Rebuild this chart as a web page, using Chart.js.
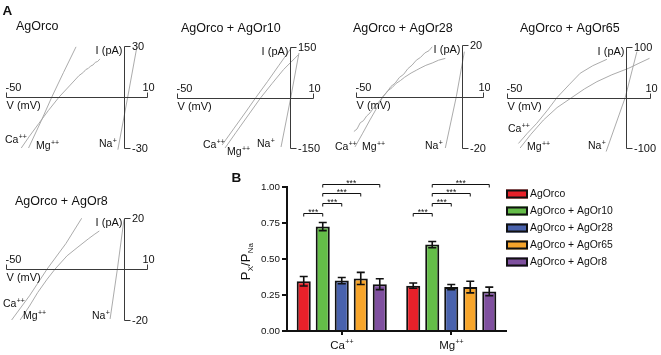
<!DOCTYPE html>
<html>
<head>
<meta charset="utf-8">
<script src="https://cdn.jsdelivr.net/npm/chart.js@4.4.0/dist/chart.umd.min.js"></script>
<style>
  html, body { margin: 0; padding: 0; background: #fff; }
  #fig { position: relative; width: 661px; height: 355px; overflow: hidden; }
  #fig canvas { position: absolute; }
</style>
</head>
<body>
<div id="fig">
  <canvas id="ivOrco" width="165" height="165" style="left:0;top:0"></canvas>
  <canvas id="ivOr10" width="160" height="165" style="left:165px;top:0"></canvas>
  <canvas id="ivOr28" width="165" height="165" style="left:325px;top:0"></canvas>
  <canvas id="ivOr65" width="171" height="165" style="left:490px;top:0"></canvas>
  <canvas id="ivOr8" width="180" height="190" style="left:0;top:165px"></canvas>
  <canvas id="bars" width="431" height="187" style="left:230px;top:168px"></canvas>
</div>
<script>
// ---- panel A : I-V ramps, [mV, pA] ----
const vTicks = [-50, 10];
const ivTitles = ['AgOrco', 'AgOrco + AgOr10', 'AgOrco + AgOr28', 'AgOrco + AgOr65', 'AgOrco + AgOr8'];
const ivMaxI = [30, 150, 20, 100, 20];

const caOrco = [[-40.4,-30],[-35,-14],[-30.5,0],[-25.5,14.5],[-20.2,29.5]];
const mgOrco = [[-43.5,-30],[-40,-23],[-36,-15.5],[-32,-8],[-27.4,0],[-23,6.5],[-19,12.5],[-17,14.6],
                [-16,16.2],[-15,16.8],[-14,18.2],[-13,18.8],[-12,20.4],[-11,20.9],[-10,22.4]];
const naOrco = [[-2.4,-31],[1.8,0],[5.7,29.5]];

const caOr10 = [[-30.1,-141],[-25,-93],[-20,-46],[-15.2,0],[-10,48],[-5,96],[0.7,150]];
const mgOr10 = [[-28.8,-150],[-24,-104],[-18.5,-52],[-13,0],[-8,42],[-3,83],[3.4,126]];
const naOr10 = [[-4.1,-147],[0.2,0],[3.8,132]];

const caOr28 = [[-53.2,-16.2],[-51,-13.6],[-49.5,-12.6],[-48,-10.2],[-46.5,-9.4],[-45,-7.6],[-43.4,-6.4],
                [-41.5,-4.2],[-39.5,-2.4],[-37.2,0],[-35.5,1.6],[-33.5,3.9],[-31.5,5.2],[-29.5,7.4],[-27.5,8.6],
                [-25.5,10.8],[-23.5,12.2],[-21.5,14.1],[-19.5,15.2],[-17.5,16.9],[-15.5,17.8],[-14,19.3]];
const mgOr28 = [[-50.5,-19.6],[-47,-14.5],[-43.4,-9.1],[-40,-4.2],[-37.2,0],[-35,2.2],[-33,3.4],[-31,5.1],
                [-29,6.2],[-27,7.5],[-24,9.1],[-21.5,10.2],[-19.7,11],[-17,12.1],[-14,13],[-11,14.1],[-7.8,14.8]];
const naOr28 = [[-7.8,-20],[-2.6,0],[1.2,17.4]];

const caOr65 = [[-45.2,-91],[-41.5,-71],[-37.5,-51],[-33,-25],[-29,0],[-24,25],[-19.3,48],[-14,63],[-8.1,75.6]];
const mgOr65 = [[-44.5,-100],[-40,-73],[-34.7,-44.6],[-29,-20],[-22.8,0],[-17.5,17],[-12.3,31.3],[-6,45],
                [1,57.8],[5,67],[9.8,77.6]];
const naOr65 = [[-8.4,-107],[-0.4,0],[4.5,90.7]];

const caOr8 = [[-47.6,-20],[-40,-10.5],[-32.5,0],[-24.5,10],[-17.8,19.9]];
const mgOr8 = [[-44,-20],[-40,-14.5],[-36.5,-9.2],[-32.5,-4],[-29.1,0],[-24,5.2],[-19.4,8.6],[-15,11.8],
               [-12.5,13.5],[-10.3,14.9]];
const naOr8 = [[-5.7,-19.6],[-2.6,0],[0.2,19.4]];

// ---- panel B : permeability ratios ----
const ions = ['Ca', 'Mg'];
const groups = ['AgOrco', 'AgOrco + AgOr10', 'AgOrco + AgOr28', 'AgOrco + AgOr65', 'AgOrco + AgOr8'];
const ratioCa = [0.345, 0.725, 0.35, 0.365, 0.325];
const ratioMg = [0.315, 0.60, 0.305, 0.305, 0.275];
const semCa = [0.033, 0.028, 0.022, 0.042, 0.038];
const semMg = [0.018, 0.022, 0.018, 0.04, 0.03];
const yTicks = [0, 0.25, 0.5, 0.75, 1];
const sigPairs = [[0, 1], [1, 2], [1, 3], [1, 4]];
const sigLevels = [0.82, 0.89, 0.96, 1.02];

const groupColors = ['#e8212a', '#64bd48', '#4962ad', '#f7a52b', '#7f509f'];
const FONT = '"Liberation Sans", Arial, sans-serif';
const INK = '#111';

function supText(ctx, base, sup, x, y, size, align, sub) {
  const small = Math.round(size * 0.64);
  ctx.font = size + 'px ' + FONT;
  const wb = ctx.measureText(base).width;
  ctx.font = small + 'px ' + FONT;
  const ws = ctx.measureText(sup).width;
  let sx = align === 'center' ? x - (wb + ws) / 2 : x;
  ctx.textAlign = 'left';
  ctx.textBaseline = 'alphabetic';
  ctx.font = size + 'px ' + FONT;
  ctx.fillText(base, sx, y);
  ctx.font = small + 'px ' + FONT;
  ctx.fillText(sup, sx + wb + 0.3, sub ? y + size * 0.22 : y - size * 0.4);
  return wb + ws + 0.3;
}

// draws the crossing axes, labels and title of one I-V panel
function ivDeco(maxI, deco) {
  return {
    id: 'ivDeco',
    afterDraw(chart) {
      const ctx = chart.ctx, xs = chart.scales.x, ys = chart.scales.y;
      const x1 = Math.round(xs.getPixelForValue(vTicks[0])) + 0.5;
      const x2 = Math.round(xs.getPixelForValue(vTicks[1])) + 0.5;
      const x0 = Math.round(xs.getPixelForValue(0)) + 0.5;
      const y0 = Math.round(ys.getPixelForValue(0)) + 0.5;
      const yT = Math.round(ys.getPixelForValue(maxI)) + 0.5;
      const yB = Math.round(ys.getPixelForValue(-maxI)) + 0.5;
      ctx.save();
      ctx.strokeStyle = '#3a3a3a';
      ctx.lineWidth = 1;
      ctx.beginPath();
      ctx.moveTo(x1, y0 - 5); ctx.lineTo(x1, y0); ctx.lineTo(x2, y0); ctx.lineTo(x2, y0 - 5);
      ctx.moveTo(x0 + 6, yT); ctx.lineTo(x0, yT); ctx.lineTo(x0, yB); ctx.lineTo(x0 + 6, yB);
      ctx.stroke();

      ctx.fillStyle = INK;
      ctx.font = '11px ' + FONT;
      ctx.textBaseline = 'alphabetic';
      ctx.textAlign = 'left';
      ctx.fillText(String(vTicks[0]), x1 - 1, y0 - 6.5);
      ctx.fillText('V (mV)', x1, y0 + 11);
      ctx.textAlign = 'center';
      ctx.fillText(String(vTicks[1]), x2 + 1, y0 - 6.5);
      ctx.textAlign = 'right';
      ctx.fillText('I (pA)', x0 - 2, yT + 7);
      ctx.textAlign = 'left';
      ctx.textBaseline = 'middle';
      ctx.fillText(String(maxI), x0 + 7.5, yT + 0.5);
      ctx.fillText(String(-maxI), x0 + 7.5, yB + 0.5);

      ctx.textBaseline = 'alphabetic';
      ctx.font = '12.5px ' + FONT;
      ctx.fillText(deco.title, deco.tx, deco.ty);
      if (deco.letter) {
        ctx.font = 'bold 13.5px ' + FONT;
        ctx.fillText(deco.letter, 2.5, 15);
      }
      deco.ions.forEach(l => supText(ctx, l[0], l[1], l[2], l[3], 10.5, 'left'));
      ctx.restore();
    }
  };
}

function ivChart(id, traces, maxI, pad, deco) {
  new Chart(document.getElementById(id), {
    type: 'scatter',
    data: {
      datasets: traces.map(t => ({
        data: t.map(p => ({ x: p[0], y: p[1] })),
        showLine: true,
        borderColor: '#a2a2a2',
        borderWidth: 0.9,
        pointRadius: 0,
        clip: false
      }))
    },
    options: {
      responsive: false,
      animation: false,
      events: [],
      layout: { padding: pad },
      plugins: { legend: { display: false }, tooltip: { enabled: false } },
      scales: {
        x: { type: 'linear', min: vTicks[0], max: vTicks[1], display: false },
        y: { type: 'linear', min: -maxI, max: maxI, display: false }
      }
    },
    plugins: [ivDeco(maxI, deco)]
  });
}

ivChart('ivOrco', [caOrco, mgOrco, naOrco], ivMaxI[0], { left: 6, right: 18, top: 46, bottom: 17 },
  { title: ivTitles[0], tx: 16, ty: 29.5, letter: 'A',
    ions: [['Ca', '++', 5, 143], ['Mg', '++', 36, 149], ['Na', '+', 99, 147]] });
ivChart('ivOr10', [caOr10, mgOr10, naOr10], ivMaxI[1], { left: 12, right: 12, top: 47, bottom: 17 },
  { title: ivTitles[1], tx: 16, ty: 32,
    ions: [['Ca', '++', 38, 148], ['Mg', '++', 62, 155], ['Na', '+', 92, 147]] });
ivChart('ivOr28', [caOr28, mgOr28, naOr28], ivMaxI[2], { left: 31, right: 7, top: 45, bottom: 17 },
  { title: ivTitles[2], tx: 28, ty: 32,
    ions: [['Ca', '++', 10, 150], ['Mg', '++', 37, 150], ['Na', '+', 100, 149]] });
ivChart('ivOr65', [caOr65, mgOr65, naOr65], ivMaxI[3], { left: 17, right: 11, top: 47, bottom: 17 },
  { title: ivTitles[3], tx: 30, ty: 32,
    ions: [['Ca', '++', 18, 132], ['Mg', '++', 37, 150], ['Na', '+', 98, 149]] });
ivChart('ivOr8', [caOr8, mgOr8, naOr8], ivMaxI[4], { left: 6, right: 33, top: 53, bottom: 35 },
  { title: ivTitles[4], tx: 15, ty: 40,
    ions: [['Ca', '++', 3, 142], ['Mg', '++', 23, 154], ['Na', '+', 92, 154]] });

// ---- panel B ----
const errors = [semCa, semMg];

const barDeco = {
  id: 'barDeco',
  afterDatasetsDraw(chart) {
    const ctx = chart.ctx, ys = chart.scales.y, area = chart.chartArea;
    ctx.save();
    // error bars
    ctx.strokeStyle = INK;
    ctx.lineWidth = 1.6;
    groups.forEach((g, i) => {
      chart.getDatasetMeta(i).data.forEach((bar, j) => {
        const v = chart.data.datasets[i].data[j];
        const e = errors[j][i];
        const yt = ys.getPixelForValue(v + e), yb = ys.getPixelForValue(v - e);
        ctx.beginPath();
        ctx.moveTo(bar.x, yt); ctx.lineTo(bar.x, yb);
        ctx.moveTo(bar.x - 4, yt); ctx.lineTo(bar.x + 4, yt);
        ctx.moveTo(bar.x - 4, yb); ctx.lineTo(bar.x + 4, yb);
        ctx.stroke();
      });
    });
    // significance brackets
    ctx.lineWidth = 1;
    ctx.fillStyle = INK;
    ctx.font = '8.5px ' + FONT;
    ctx.textAlign = 'center';
    ctx.textBaseline = 'alphabetic';
    ions.forEach((ion, j) => {
      sigPairs.forEach((p, k) => {
        const xa = chart.getDatasetMeta(p[0]).data[j].x;
        const xb = chart.getDatasetMeta(p[1]).data[j].x;
        const y = Math.round(ys.getPixelForValue(sigLevels[k])) + 0.5;
        ctx.beginPath();
        ctx.moveTo(xa, y + 3); ctx.lineTo(xa, y); ctx.lineTo(xb, y); ctx.lineTo(xb, y + 3);
        ctx.stroke();
        ctx.fillText('***', (xa + xb) / 2, y + 1.5);
      });
    });
    // category labels with superscripts
    const xs = chart.scales.x;
    ions.forEach((ion, j) => supText(ctx, ion, '++', xs.getPixelForValue(j), area.bottom + 18, 11.5, 'center'));
    // y title P_X / P_Na
    ctx.translate(20, 94);
    ctx.rotate(-Math.PI / 2);
    ctx.font = '13px ' + FONT;
    const wP = ctx.measureText('P').width, wS = ctx.measureText('/').width;
    ctx.font = '8px ' + FONT;
    const wX = ctx.measureText('X').width, wNa = ctx.measureText('Na').width;
    let cx = -(wP * 2 + wS + wX + wNa) / 2;
    cx += supText(ctx, 'P', 'X', cx, 0, 13, 'left', true);
    ctx.font = '13px ' + FONT;
    ctx.fillText('/', cx, 0); cx += wS;
    supText(ctx, 'P', 'Na', cx, 0, 13, 'left', true);
    ctx.restore();

    // legend
    ctx.save();
    groups.forEach((g, i) => {
      const y = area.top + 7 + i * 17;
      ctx.fillStyle = groupColors[i];
      ctx.fillRect(area.right, y - 4.5, 22, 9);
      ctx.strokeStyle = INK;
      ctx.lineWidth = 2;
      ctx.strokeRect(area.right + 1, y - 3.5, 20, 7);
      ctx.fillStyle = INK;
      ctx.font = '10.4px ' + FONT;
      ctx.textAlign = 'left';
      ctx.textBaseline = 'middle';
      ctx.fillText(g, area.right + 24, y + 0.5);
    });
    ctx.font = 'bold 13.5px ' + FONT;
    ctx.textBaseline = 'alphabetic';
    ctx.fillText('B', 1.5, 14);
    ctx.restore();
  }
};

new Chart(document.getElementById('bars'), {
  type: 'bar',
  data: {
    labels: ions,
    datasets: groups.map((g, i) => ({
      label: g,
      data: [ratioCa[i], ratioMg[i]],
      backgroundColor: groupColors[i],
      borderColor: INK,
      borderWidth: 2,
      categoryPercentage: 0.868,
      barPercentage: 0.74
    }))
  },
  options: {
    responsive: false,
    animation: false,
    events: [],
    layout: { padding: { left: 0, right: 155, top: 19, bottom: 0 } },
    plugins: { legend: { display: false }, tooltip: { enabled: false } },
    scales: {
      x: {
        grid: { offset: false, drawOnChartArea: false, drawTicks: true, tickLength: 4, color: INK, lineWidth: 2 },
        border: { display: true, color: INK, width: 2 },
        ticks: { display: false },
        afterFit: s => { s.height = 24; }
      },
      y: {
        min: 0,
        max: 1,
        afterBuildTicks: s => { s.ticks = yTicks.map(v => ({ value: v })); },
        grid: { drawOnChartArea: false, drawTicks: true, tickLength: 5, color: INK, lineWidth: 2 },
        border: { display: true, color: INK, width: 2 },
        ticks: { color: INK, padding: 2, font: { family: FONT, size: 9.8 }, callback: v => v.toFixed(2) },
        afterFit: s => { s.width = 57; }
      }
    }
  },
  plugins: [barDeco]
});
</script>
</body>
</html>
